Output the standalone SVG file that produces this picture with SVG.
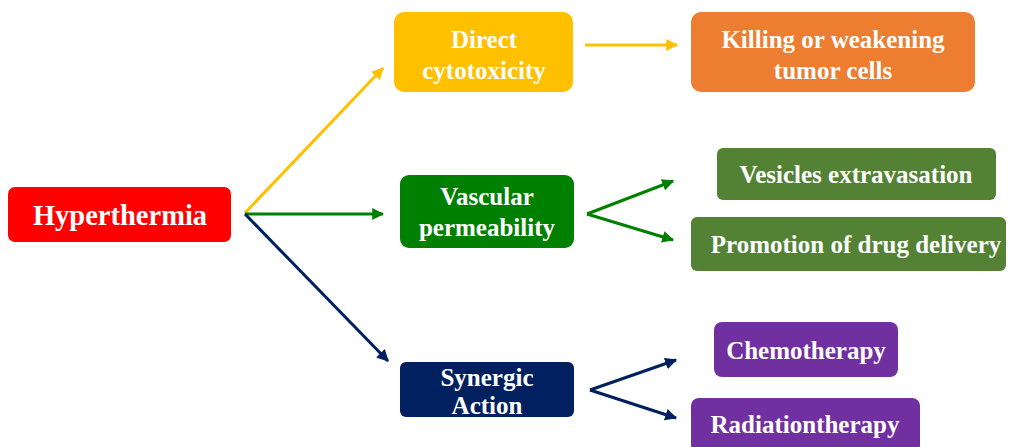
<svg xmlns="http://www.w3.org/2000/svg" width="1010" height="447" viewBox="0 0 1010 447">
<style>
text{font-family:"Liberation Serif","Times New Roman",serif;font-weight:bold;fill:#fff;text-anchor:middle}
.t{font-size:25px}
.h{font-size:28.5px}
.c{fill:none;stroke-width:3}
</style>
<defs>
<marker id="ay" viewBox="0 0 10 10" refX="9" refY="5" markerWidth="4" markerHeight="4" orient="auto" markerUnits="strokeWidth"><path d="M0,0L10,5L0,10z" fill="#FFC000"/></marker>
<marker id="ag" viewBox="0 0 10 10" refX="9" refY="5" markerWidth="4" markerHeight="4" orient="auto" markerUnits="strokeWidth"><path d="M0,0L10,5L0,10z" fill="#008000"/></marker>
<marker id="an" viewBox="0 0 10 10" refX="9" refY="5" markerWidth="4" markerHeight="4" orient="auto" markerUnits="strokeWidth"><path d="M0,0L10,5L0,10z" fill="#002060"/></marker>
</defs>
<rect width="1010" height="447" fill="#fff"/>
<g id="connectors">
<path class="c" stroke="#FFC000" d="M245,213L383,68" marker-end="url(#ay)"/>
<path class="c" stroke="#008000" d="M245,214L383,214" marker-end="url(#ag)"/>
<path class="c" stroke="#002060" d="M245,214L388,361" marker-end="url(#an)"/>
<path class="c" stroke="#FFC000" d="M585,45L677,45" marker-end="url(#ay)"/>
<path class="c" stroke="#008000" d="M587,214L673,181" marker-end="url(#ag)"/>
<path class="c" stroke="#008000" d="M587,214L673,240" marker-end="url(#ag)"/>
<path class="c" stroke="#002060" d="M590,390L676,360" marker-end="url(#an)"/>
<path class="c" stroke="#002060" d="M590,390L676,418" marker-end="url(#an)"/>
</g>
<g id="hyperthermia"><rect x="8" y="187" width="223" height="55" rx="7" fill="#FF0000"/><text class="h" x="120" y="225">Hyperthermia</text></g>
<g id="direct"><rect x="394" y="12" width="179" height="80" rx="10" fill="#FFC000"/><text class="t" x="484" y="48">Direct</text><text class="t" x="484" y="79">cytotoxicity</text></g>
<g id="killing"><rect x="691" y="12" width="284" height="80" rx="10" fill="#ED7D31"/><text class="t" x="833" y="48">Killing or weakening</text><text class="t" x="833" y="79">tumor cells</text></g>
<g id="vascular"><rect x="400" y="175" width="174" height="73" rx="9" fill="#008000"/><text class="t" x="487" y="205">Vascular</text><text class="t" x="487" y="236">permeability</text></g>
<g id="vesicles"><rect x="717" y="148" width="279" height="52" rx="6" fill="#548235"/><text class="t" x="856" y="183">Vesicles extravasation</text></g>
<g id="promotion"><rect x="691" y="217" width="315" height="54" rx="6" fill="#548235"/><text class="t" x="856" y="253">Promotion of drug delivery</text></g>
<g id="synergic"><rect x="400" y="362" width="174" height="55" rx="6" fill="#002060"/><text class="t" x="487" y="386">Synergic</text><text class="t" x="487" y="414">Action</text></g>
<g id="chemo"><rect x="714" y="322" width="184" height="55" rx="8" fill="#7030A0"/><text class="t" x="806" y="359">Chemotherapy</text></g>
<g id="radiation"><rect x="691" y="398" width="229" height="55" rx="8" fill="#7030A0"/><text class="t" x="805" y="433">Radiationtherapy</text></g>
</svg>
